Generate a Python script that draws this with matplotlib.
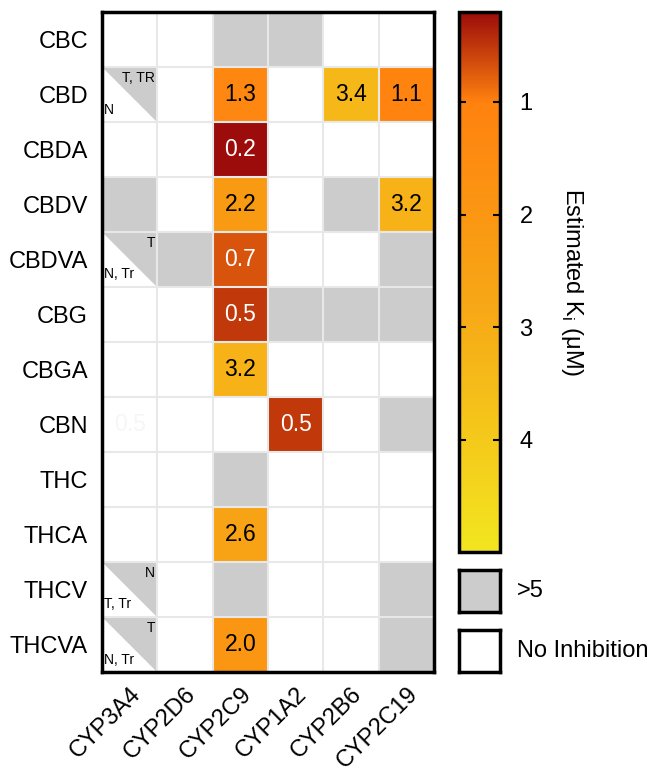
import numpy as np
import matplotlib.pyplot as plt
from matplotlib.colors import LinearSegmentedColormap, Normalize
from matplotlib.patches import Polygon

plt.rcParams['font.family'] = ['Liberation Sans', 'DejaVu Sans']

compounds = ['CBC', 'CBD', 'CBDA', 'CBDV', 'CBDVA', 'CBG', 'CBGA', 'CBN',
             'THC', 'THCA', 'THCV', 'THCVA']
enzymes = ['CYP3A4', 'CYP2D6', 'CYP2C9', 'CYP1A2', 'CYP2B6', 'CYP2C19']

# nan = no inhibition, inf = Ki > 5 uM
N = np.nan
G = np.inf
ki = np.array([
    [N, N, G,   G,   N,   N],    # CBC
    [N, N, 1.3, N,   3.4, 1.1],  # CBD
    [N, N, 0.2, N,   N,   N],    # CBDA
    [G, N, 2.2, N,   G,   3.2],  # CBDV
    [N, G, 0.7, N,   N,   G],    # CBDVA
    [N, N, 0.5, G,   G,   G],    # CBG
    [N, N, 3.2, N,   N,   N],    # CBGA
    [N, N, N,   0.5, N,   G],    # CBN
    [N, N, G,   N,   N,   N],    # THC
    [N, N, 2.6, N,   N,   N],    # THCA
    [N, N, G,   N,   N,   G],    # THCV
    [N, N, 2.0, N,   N,   G],    # THCVA
])

# CYP3A4 cells split by diagonal: (row, upper label [>5], lower label [none])
split_cells = [(1, 'T, TR', 'N'), (4, 'T', 'N, Tr'),
               (10, 'N', 'T, Tr'), (11, 'T', 'N, Tr')]

cbar_ticks = [1, 2, 3, 4]
vmin, vmax = 0.2, 5.0

cmap = LinearSegmentedColormap.from_list(
    'ki', [(0.0, '#9c0c0a'), (0.167, '#ff820f'), (0.55, '#f7a816'), (1.0, '#f2e61f')])
cmap.set_over('#cccccc')
cmap.set_bad('white')
norm = Normalize(vmin, vmax)

fig = plt.figure(figsize=(6.49, 7.74), dpi=100)
ax = fig.add_axes([102/649, 1-672/774, 332/649, 660/774])

nr, nc = ki.shape
im = ax.imshow(np.ma.masked_invalid(np.where(np.isinf(ki), 99, ki)), cmap=cmap, norm=norm,
               aspect='auto', extent=[-0.5, nc-0.5, nr-0.5, -0.5], interpolation='nearest')

for r, upper, lower in split_cells:
    tri = Polygon([(-0.5, r-0.5), (0.5, r-0.5), (0.5, r+0.5)], closed=True,
                  facecolor='#cccccc', edgecolor='none', zorder=2)
    ax.add_patch(tri)
    ax.text(0.46, r-0.42, upper, ha='right', va='top', fontsize=10, zorder=4)
    ax.text(-0.46, r+0.40, lower, ha='left', va='bottom', fontsize=10, zorder=4)

for i in range(nr):
    for j in range(nc):
        v = ki[i, j]
        if np.isfinite(v):
            col = 'white' if v < 1.0 else 'black'
            ax.text(j, i, '%.1f' % v, ha='center', va='center', fontsize=16.5,
                    color=col, zorder=4)
# faint leftover label in CBN / CYP3A4
ax.text(0, 7, '0.5', ha='center', va='center', fontsize=16.5, color='#f6f6f6', zorder=4)

for k in range(1, nc):
    ax.axvline(k-0.5, color='#e8e8e8', lw=1.5, zorder=3)
for k in range(1, nr):
    ax.axhline(k-0.5, color='#e8e8e8', lw=1.5, zorder=3)

ax.set_xlim(-0.5, nc-0.5)
ax.set_ylim(nr-0.5, -0.5)
ax.set_yticks(range(nr))
ax.set_yticklabels(compounds, fontsize=17)
ax.set_xticks(range(nc))
ax.set_xticklabels(enzymes, fontsize=17, rotation=45, ha='right', va='top',
                   rotation_mode='anchor')
ax.tick_params(length=0, pad=10)
ax.tick_params(axis='x', pad=8)
for s in ax.spines.values():
    s.set_linewidth(2.5)
    s.set_zorder(5)

# colorbar
cax = fig.add_axes([459/649, 1-552/774, 41/649, 540/774])
cb = fig.colorbar(plt.cm.ScalarMappable(norm=norm, cmap=cmap), cax=cax)
cb.set_ticks(cbar_ticks)
cb.ax.invert_yaxis()
cb.ax.tick_params(direction='in', left=True, right=True, length=5, width=1.5,
                  labelsize=17, pad=14)
cb.outline.set_linewidth(2.5)
cb.set_label('Estimated K$_\\mathregular{i}$ (\u03bcM)', rotation=270, fontsize=17,
             labelpad=38)

# legend boxes
for y0, fc, lab in [(570, '#cccccc', '>5'), (630, 'white', 'No Inhibition')]:
    lax = fig.add_axes([459/649, 1-(y0+42)/774, 41/649, 42/774])
    lax.set_facecolor(fc)
    lax.set_xticks([])
    lax.set_yticks([])
    for s in lax.spines.values():
        s.set_linewidth(2.5)
    fig.text(517/649, 1-(y0+21)/774, lab, ha='left', va='center', fontsize=17)

plt.savefig('out.png', dpi=100)
